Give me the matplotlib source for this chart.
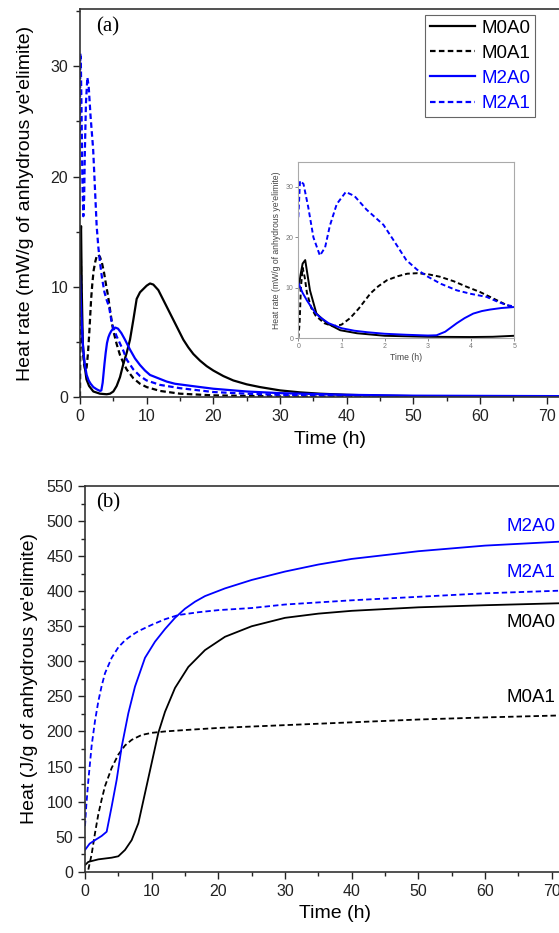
import matplotlib.pyplot as plt
from matplotlib.ticker import MultipleLocator

plt.rcParams['font.family'] = ['Liberation Sans', 'DejaVu Sans']

# ---- (a) heat rate, mW/g ----
t_m0a0 = [0, 0.05, 0.1, 0.16, 0.27, 0.42, 0.66, 0.97, 1.36, 2, 3, 4, 4.5, 5, 5.5,
          6, 6.5, 7, 7.5, 8, 8.5, 9, 9.5, 10, 10.5, 11, 11.75, 12.5, 13.25, 14, 14.75,
          15.5, 16.25, 17, 18, 19, 20, 21.5, 23, 25, 27, 30, 33, 36, 40, 45, 50, 60, 72]
q_m0a0 = [9.5, 12.5, 14.8, 15.5, 9.5, 4.9, 3.0, 1.6, 1.0, 0.5, 0.3, 0.25, 0.3, 0.5, 1.0,
          1.8, 3.0, 4.0, 5.2, 7.0, 8.9, 9.5, 9.8, 10.1, 10.3, 10.2, 9.7, 8.8, 7.9, 7.0, 6.1,
          5.2, 4.5, 3.9, 3.3, 2.8, 2.4, 1.9, 1.5, 1.15, 0.9, 0.6, 0.42, 0.3, 0.2, 0.12, 0.08, 0.05, 0.03]

t_m0a1 = [0, 0.03, 0.06, 0.1, 0.15, 0.2, 0.3, 0.4, 0.6, 0.8, 1.0, 1.2, 1.4, 1.67, 1.85,
          2.05, 2.3, 2.52, 2.75, 3.0, 3.28, 3.6, 3.9, 4.2, 4.44, 4.82, 5.0, 5.5, 6, 6.5,
          7, 8, 9, 10, 12, 15, 20, 30, 40, 72]
q_m0a1 = [0, 3, 10, 14, 12, 9, 6, 4.5, 3.0, 2.4, 2.7, 4.0, 5.9, 8.9, 10.3,
          11.5, 12.3, 12.8, 12.9, 12.7, 12.2, 11.3, 10.2, 9.2, 8.2, 6.6, 6.0, 4.8, 3.8, 3.1,
          2.5, 1.7, 1.2, 0.9, 0.55, 0.3, 0.15, 0.05, 0.02, 0.01]

t_m2a0 = [0, 0.1, 0.2, 0.3, 0.4, 0.5, 0.7, 1.0, 1.3, 1.6, 2, 2.5, 3.0, 3.2, 3.4, 3.67,
          3.85, 4.05, 4.25, 4.44, 4.7, 5.0, 5.3, 5.7, 6.2, 6.75, 7.5, 8.25, 9, 9.75, 10.5,
          11.75, 13, 14.25, 16.75, 20, 25, 30, 40, 50, 72]
q_m2a0 = [11, 9, 7.5, 6.2, 5.0, 4.2, 3.0, 2.0, 1.5, 1.2, 0.9, 0.7, 0.55, 0.6, 1.3, 3.0,
          4.0, 4.9, 5.4, 5.7, 6.0, 6.2, 6.3, 6.2, 5.8, 5.2, 4.3, 3.5, 2.9, 2.4, 2.0,
          1.7, 1.4, 1.2, 1.0, 0.75, 0.5, 0.35, 0.2, 0.12, 0.08]

t_m2a1 = [0, 0.04, 0.12, 0.23, 0.35, 0.5, 0.62, 0.73, 0.89, 1.1, 1.3, 1.58, 1.97, 2.2,
          2.5, 2.75, 3.0, 3.3, 3.67, 4.0, 4.36, 4.6, 4.82, 5.0, 5.5, 6.5, 7, 8, 9, 10,
          12, 15, 20, 25, 30, 40, 50, 72]
q_m2a1 = [24, 31.2, 30.6, 26, 20, 16.4, 18, 22.3, 26.6, 29, 28.2, 25.5, 22.5, 19.5,
          15.5, 13.6, 12.2, 10.8, 9.5, 8.8, 8.2, 7.3, 6.6, 6.3, 5.5, 4.2, 3.4, 2.5, 1.9, 1.5,
          1.1, 0.8, 0.45, 0.3, 0.2, 0.1, 0.05, 0.03]

# ---- (b) cumulative heat, J/g ----
tb_m0a0 = [0, 0.5, 2, 4, 5, 6, 7, 8, 9, 10, 11, 12, 13.5, 15.5, 18, 21, 25, 30, 35,
           40, 50, 60, 72]
h_m0a0 = [9.5, 14, 17.6, 20, 22, 31, 45, 69, 112, 155, 198, 228, 262, 292, 316, 335,
          350, 362, 368, 372, 377, 380, 383]

tb_m0a1 = [0.5, 1.0, 1.5, 2, 2.5, 3, 3.5, 4, 5, 6, 7, 8.5, 10, 12, 15, 20, 25, 30,
           40, 50, 60, 72]
h_m0a1 = [3, 25, 55, 82, 103, 122, 135, 148, 167, 180, 188, 195, 198, 200, 202, 205,
          207, 209, 213, 217, 220, 223]

tb_m2a0 = [0, 0.7, 1.5, 2.5, 3.25, 4, 4.75, 5.5, 6.5, 7.5, 9, 10.5, 12, 13.5, 15,
           16.5, 18, 21, 25, 30, 35, 40, 50, 60, 72]
h_m2a0 = [31, 40, 45, 51, 57, 93, 131, 178, 226, 264, 305, 328, 346, 362, 375,
          385, 393, 404, 416, 428, 438, 446, 457, 465, 471]

tb_m2a1 = [0, 0.2, 0.5, 1, 1.5, 2, 2.5, 3, 4, 5, 6, 7, 8, 10, 12, 14, 17, 20, 25,
           30, 40, 50, 60, 72]
h_m2a1 = [65, 95, 130, 180, 215, 243, 265, 283, 305, 320, 330, 337, 343, 352, 360,
          366, 370, 373, 376, 381, 387, 392, 397, 401]

labels = ['M0A0', 'M0A1', 'M2A0', 'M2A1']
colors = ['black', 'black', 'blue', 'blue']

W, H = 559, 933
fig = plt.figure(figsize=(W / 100, H / 100), dpi=100)

# axes extend past the right edge, as in the cropped original
ax1 = fig.add_axes([80 / W, 1 - 397 / H, 500 / W, 388 / H])
ax2 = fig.add_axes([85 / W, 1 - 871.7 / H, 500 / W, 385.7 / H])
ins = fig.add_axes([298.3 / W, 1 - 338.3 / H, 216 / W, 176.6 / H])

dash_a = (0, (2.5, 1.5))
dash_b = (0, (3, 1.7))
a_series = [(t_m0a0, q_m0a0, '-'), (t_m0a1, q_m0a1, dash_a),
            (t_m2a0, q_m2a0, '-'), (t_m2a1, q_m2a1, dash_a)]
for (t, q, ls), c, lab in zip(a_series, colors, labels):
    ax1.plot(t, q, color=c, ls=ls, lw=1.6, label=lab)
    ins.plot(t, q, color=c, ls=ls, lw=1.4)

b_series = [(tb_m0a0, h_m0a0, '-'), (tb_m0a1, h_m0a1, dash_b),
            (tb_m2a0, h_m2a0, '-'), (tb_m2a1, h_m2a1, dash_b)]
for (t, h, ls), c in zip(b_series, colors):
    ax2.plot(t, h, color=c, ls=ls, lw=1.3)

for ax in (ax1, ax2):
    ax.set_xlim(0, 75)
    ax.xaxis.set_major_locator(MultipleLocator(10))
    ax.xaxis.set_minor_locator(MultipleLocator(5))
    ax.tick_params(which='major', direction='out', length=5, width=1, labelsize=11.5, colors='#222')
    ax.tick_params(which='minor', direction='out', length=3, width=1, colors='#222')
    for s in ax.spines.values():
        s.set_color('#333')
        s.set_linewidth(1.2)
    ax.set_xlabel('Time (h)', fontsize=14, labelpad=5)

ax1.set_ylim(0, 35.2)
ax1.yaxis.set_major_locator(MultipleLocator(10))
ax1.yaxis.set_minor_locator(MultipleLocator(5))
ax1.set_ylabel("Heat rate (mW/g of anhydrous ye'elimite)", fontsize=14, labelpad=12)
ax1.text(0.032, 0.955, '(a)', transform=ax1.transAxes, fontsize=15,
         family='Liberation Serif', va='center', ha='left')
leg = ax1.legend(loc='upper left', bbox_to_anchor=(345 / 500, 0.985), fontsize=13.5,
                 handlelength=2.4, handletextpad=0.35, labelspacing=0.43,
                 borderpad=0.25, borderaxespad=0, fancybox=False, framealpha=1)
leg.get_frame().set_edgecolor('#666')
leg.get_frame().set_linewidth(0.8)
for txt, c in zip(leg.get_texts(), colors):
    txt.set_color(c)

ax2.set_ylim(0, 550)
ax2.yaxis.set_major_locator(MultipleLocator(50))
ax2.yaxis.set_minor_locator(MultipleLocator(25))
ax2.set_ylabel("Heat (J/g of anhydrous ye'elimite)", fontsize=14, labelpad=6)
ax2.text(0.022, 0.955, '(b)', transform=ax2.transAxes, fontsize=15,
         family='Liberation Serif', va='center', ha='left')
ax2.text(63.2, 492, 'M2A0', color='blue', fontsize=13.5, ha='left', va='center')
ax2.text(63.2, 426, 'M2A1', color='blue', fontsize=13.5, ha='left', va='center')
ax2.text(63.2, 356, 'M0A0', color='black', fontsize=13.5, ha='left', va='center')
ax2.text(63.2, 248, 'M0A1', color='black', fontsize=13.5, ha='left', va='center')

ins.set_xlim(0, 5)
ins.set_ylim(0, 35)
ins.set_xticks(range(6))
ins.set_yticks([0, 10, 20, 30])
ins.tick_params(direction='out', length=2, width=0.6, labelsize=5, colors='#777', pad=1.5)
for s in ins.spines.values():
    s.set_color('#aaa')
    s.set_linewidth(0.8)
ins.set_xlabel('Time (h)', fontsize=6.2, color='#444', labelpad=2)
ins.set_ylabel("Heat rate (mW/g of anhydrous ye'elimite)", fontsize=6.2, color='#444', labelpad=3)

fig.savefig('out.png', dpi=100)
